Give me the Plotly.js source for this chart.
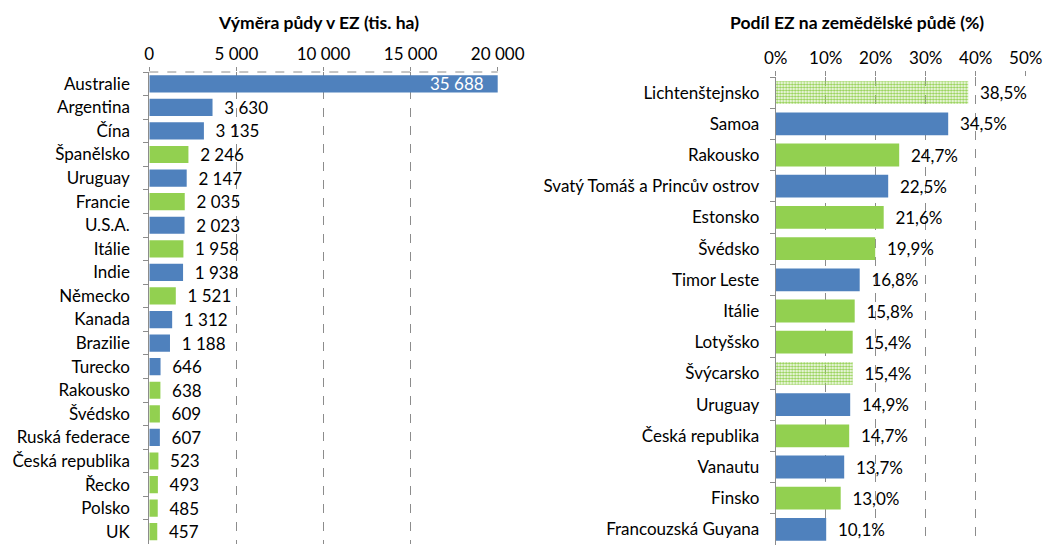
<!DOCTYPE html>
<html><head><meta charset="utf-8">
<script src="https://cdn.plot.ly/plotly-3.0.1.min.js"></script>
<style>html,body{margin:0;padding:0;background:#fff}#c{width:1043px;height:545px}</style>
</head><body><div id="c"></div>
<script>
// Left chart data
const areaCountries = ['Australie','Argentina','Čína','Španělsko','Uruguay','Francie','U.S.A.','Itálie','Indie','Německo','Kanada','Brazilie','Turecko','Rakousko','Švédsko','Ruská federace','Česká republika','Řecko','Polsko','UK'];
const areaValues = [35688,3630,3135,2246,2147,2035,2023,1958,1938,1521,1312,1188,646,638,609,607,523,493,485,457];
const areaGroup = ['non','non','non','EU','non','EU','non','EU','non','EU','non','non','non','EU','EU','non','EU','EU','EU','EU'];
const areaTicks = [0,5000,10000,15000,20000];

// Right chart data
const shareCountries = ['Lichtenštejnsko','Samoa','Rakousko','Svatý Tomáš a Princův ostrov','Estonsko','Švédsko','Timor Leste','Itálie','Lotyšsko','Švýcarsko','Uruguay','Česká republika','Vanautu','Finsko','Francouzská Guyana'];
const shareValues = [38.5,34.5,24.7,22.5,21.6,19.9,16.8,15.8,15.4,15.4,14.9,14.7,13.7,13.0,10.1];
const shareGroup = ['EFTA','non','EU','non','EU','EU','non','EU','EU','EFTA','non','EU','non','EU','non'];
const shareTicks = [0,10,20,30,40,50];

const BLUE = '#4F81BD', GREEN = '#92D050';
const colorOf = g => g === 'non' ? BLUE : GREEN;
const FONT = 'Lato, "Open Sans", sans-serif';
const FS = 17;
const xMax = 20000;
const fmtThousands = v => String(v).replace(/\B(?=(\d{3})+(?!\d))/g, '\u00a0');

const clipped = areaValues.map(v => v > xMax);

const trace1 = {
  type: 'bar', orientation: 'h', x: areaValues, y: areaCountries,
  xaxis: 'x', yaxis: 'y',
  marker: {color: areaGroup.map(colorOf), line: {width: 0}},
  texttemplate: clipped.map(c => c ? '' : '\u00a0\u00a0%{x:,}'),
  textposition: 'outside',
  outsidetextfont: {color: '#000', size: FS, family: FONT},
  constraintext: 'none',
  cliponaxis: false,
  hoverinfo: 'skip'
};
const trace2 = {
  type: 'bar', orientation: 'h', x: shareValues, y: shareCountries,
  xaxis: 'x2', yaxis: 'y2',
  marker: {
    color: shareGroup.map(colorOf),
    line: {width: 0},
    pattern: {
      shape: shareGroup.map(g => g === 'EFTA' ? '.' : ''),
      fgcolor: '#ffffff', bgcolor: GREEN, size: 3, solidity: 0.5, fillmode: 'replace'
    }
  },
  texttemplate: '\u00a0\u00a0%{x:.1f}%',
  textposition: 'outside',
  outsidetextfont: {color: '#000', size: FS, family: FONT},
  constraintext: 'none',
  cliponaxis: false,
  hoverinfo: 'skip'
};

// labels of bars that run past the axis end, drawn inside at the axis end
const clippedLabels = areaValues.map((v, i) => ({v, i})).filter(o => clipped[o.i]).map(o => ({
  text: fmtThousands(o.v), xref: 'x', yref: 'y',
  x: Math.min(o.v, xMax), y: areaCountries[o.i],
  xanchor: 'right', yanchor: 'middle', xshift: -12, showarrow: false,
  font: {size: FS, family: FONT, color: '#fff'}
}));

const gridStyle = {showgrid: true, gridcolor: '#8c8c8c', griddash: 'dash', gridwidth: 1};
const layout = {
  width: 1043, height: 545,
  margin: {l: 0, r: 0, t: 0, b: 0},
  paper_bgcolor: '#fff', plot_bgcolor: '#fff',
  separators: ', ',
  showlegend: false,
  bargap: 0.27,
  font: {family: FONT, size: FS, color: '#000'},
  xaxis: Object.assign({
    domain: [149.3/1043, 497.7/1043], anchor: 'y', side: 'top',
    range: [0, xMax], tickvals: areaTicks, tickformat: ',d',
    ticks: 'outside', ticklen: 4, tickcolor: '#8c8c8c',
    showline: false, zeroline: false, fixedrange: true,
    tickfont: {size: FS, family: FONT, color: '#000'}
  }, gridStyle),
  yaxis: {
    domain: [1 - 543.5/545, 1 - 72/545], anchor: 'x',
    type: 'category', range: [areaCountries.length - 0.5, -0.5],
    showline: true, linecolor: '#8c8c8c', linewidth: 1,
    ticks: 'outside', tickson: 'boundaries', ticklen: 5, tickcolor: '#8c8c8c',
    ticklabelstandoff: 15, showgrid: false, zeroline: false,
    tickfont: {size: FS, family: FONT, color: '#000'}
  },
  xaxis2: Object.assign({
    domain: [775.7/1043, 1025.7/1043], anchor: 'y2', side: 'top',
    range: [0, 50], tickvals: shareTicks, ticktext: shareTicks.map(v => v + '%'),
    ticks: 'outside', ticklen: 5, tickcolor: '#8c8c8c',
    showline: false, zeroline: false, fixedrange: true,
    tickfont: {size: FS, family: FONT, color: '#000'}
  }, gridStyle),
  yaxis2: {
    domain: [0, 1 - 77/545], anchor: 'x2',
    type: 'category', range: [shareCountries.length - 0.5, -0.5],
    showline: true, linecolor: '#8c8c8c', linewidth: 1,
    ticks: 'outside', tickson: 'boundaries', ticklen: 5, tickcolor: '#8c8c8c',
    ticklabelstandoff: 12, showgrid: false, zeroline: false,
    tickfont: {size: FS, family: FONT, color: '#000'}
  },
  shapes: [
    {type: 'line', xref: 'x domain', yref: 'y domain', x0: 0, x1: 1, y0: 1, y1: 1,
     line: {color: '#8c8c8c', width: 1, dash: 'dash'}}
  ],
  annotations: [
    {text: '<b>Výměra půdy v EZ (tis. ha)</b>', xref: 'paper', yref: 'paper',
     x: 318/1043, y: 1 - 22/545, xanchor: 'center', yanchor: 'middle', showarrow: false,
     font: {size: 17.5, family: FONT, color: '#000'}},
    {text: '<b>Podíl EZ na zemědělské půdě (%)</b>', xref: 'paper', yref: 'paper',
     x: 857/1043, y: 1 - 22/545, xanchor: 'center', yanchor: 'middle', showarrow: false,
     font: {size: 17.5, family: FONT, color: '#000'}}
  ].concat(clippedLabels)
};
Plotly.newPlot('c', [trace1, trace2], layout, {displayModeBar: false, staticPlot: true});
</script></body></html>
